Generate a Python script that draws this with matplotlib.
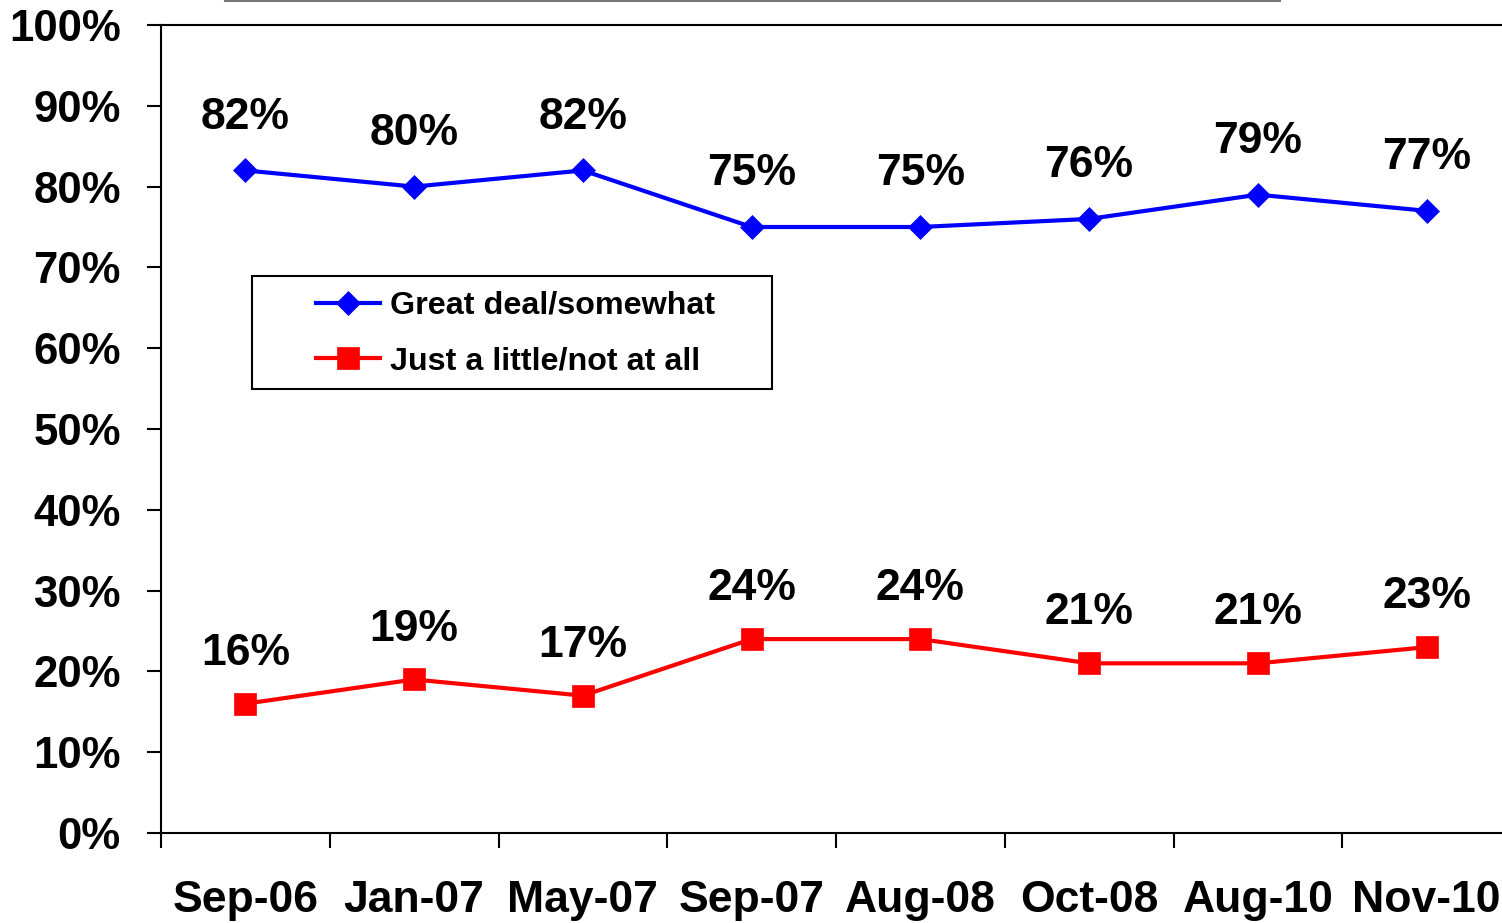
import matplotlib.pyplot as plt
from matplotlib.lines import Line2D
from matplotlib.patches import Rectangle
import numpy as np

# Dados
categorias = ['Sep-06', 'Jan-07', 'May-07', 'Sep-07', 'Aug-08', 'Oct-08', 'Aug-10', 'Nov-10']
great_deal = [82, 80, 82, 75, 75, 76, 79, 77]
just_little = [16, 19, 17, 24, 24, 21, 21, 23]
y_ticks = [0, 10, 20, 30, 40, 50, 60, 70, 80, 90, 100]
nome_great = 'Great deal/somewhat'
nome_little = 'Just a little/not at all'

plt.rcParams['font.family'] = ['Liberation Sans', 'DejaVu Sans']
plt.rcParams['font.weight'] = 'bold'


def plotar():
    fig = plt.figure(figsize=(15.02, 9.23), dpi=100)
    ax = fig.add_axes([161 / 1502, 90 / 923, 1350 / 1502, 808 / 923])

    x = np.arange(len(categorias)) + 0.5

    ax.plot(x, great_deal, color='#0000FF', linewidth=3, marker='D',
            markersize=12.5, markeredgewidth=0.5, label=nome_great, zorder=3)
    ax.plot(x, just_little, color='#FF0000', linewidth=3, marker='s',
            markersize=16, markeredgewidth=0.5, label=nome_little, zorder=3)

    # Rótulos dos valores acima dos pontos
    for xi, v in zip(x, great_deal):
        ax.annotate(f'{v}%', (xi, v), xytext=(0, 30), textcoords='offset points',
                    ha='center', va='baseline', fontsize=32, fontweight='bold')
    for xi, v in zip(x, just_little):
        ax.annotate(f'{v}%', (xi, v), xytext=(0, 28), textcoords='offset points',
                    ha='center', va='baseline', fontsize=32, fontweight='bold')

    ax.set_xlim(0, len(categorias))
    ax.set_ylim(0, 100)

    # Eixo y
    ax.set_yticks(y_ticks)
    ax.set_yticklabels([f'{t}%' for t in y_ticks], fontsize=31.5, fontweight='bold')
    ax.tick_params(axis='y', direction='out', length=10, width=1.5, pad=19)

    # Eixo x: traços nas divisões, rótulos no centro
    ax.set_xticks(np.arange(len(categorias) + 1))
    ax.set_xticklabels([])
    ax.tick_params(axis='x', which='major', direction='out', length=11, width=1.5)
    ax.set_xticks(x, minor=True)
    ax.set_xticklabels(categorias, minor=True, fontsize=32, fontweight='bold')
    ax.tick_params(axis='x', which='minor', length=0, pad=34)

    for lado in ['left', 'bottom', 'top']:
        ax.spines[lado].set_linewidth(1.5)
    ax.spines['right'].set_visible(False)

    # Legenda com caixa desenhada à parte
    leg = ax.legend(loc='upper left', bbox_to_anchor=(316 / 1502, 1 - 291 / 923),
                    bbox_transform=fig.transFigure, frameon=False,
                    prop={'size': 23.2, 'weight': 'bold'}, handlelength=2.0,
                    handletextpad=0.3, labelspacing=0.78, borderpad=0,
                    borderaxespad=0)
    fig.add_artist(Rectangle((252 / 1502, 1 - 389 / 923), 520 / 1502, 113 / 923,
                             transform=fig.transFigure, fill=False,
                             edgecolor='black', linewidth=1.5))

    # Linha cinza no topo
    fig.add_artist(Line2D([225 / 1502, 1280 / 1502], [0.999, 0.999],
                          transform=fig.transFigure, color='#777777', linewidth=1.5))

    plt.savefig('out.png', dpi=100)


if __name__ == '__main__':
    plotar()
